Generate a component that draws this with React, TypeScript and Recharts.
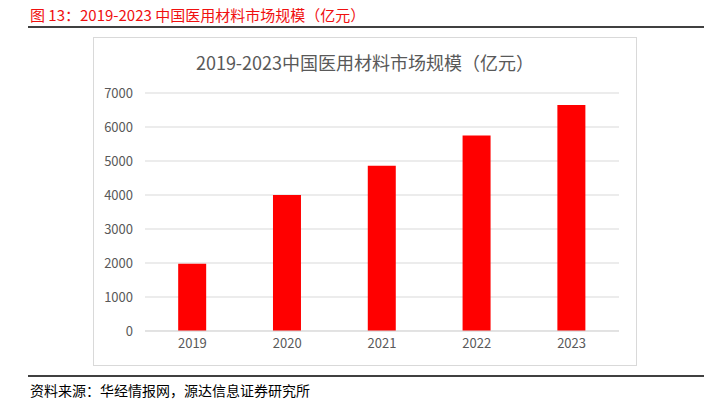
import { BarChart, Bar, XAxis, YAxis, CartesianGrid } from 'recharts';

const years = ['2019', '2020', '2021', '2022', '2023'];
const marketSize = [1980, 4000, 4860, 5750, 6650];
const yTicks = [0, 1000, 2000, 3000, 4000, 5000, 6000, 7000];

const data = years.map((year, i) => ({ year, value: marketSize[i] }));

const cjkFont = '"Noto Sans CJK SC", "Noto Sans", sans-serif';

export default function App() {
  return (
    <div
      style={{
        position: 'fixed',
        left: 0,
        top: 0,
        width: 704,
        height: 399,
        background: '#fff',
        overflow: 'hidden',
        fontFamily: cjkFont,
      }}
    >
      <div
        style={{
          position: 'absolute',
          left: 30,
          top: 4,
          fontSize: 15,
          lineHeight: '21px',
          color: '#f01010',
          whiteSpace: 'nowrap',
        }}
      >
        图 13：2019-2023 中国医用材料市场规模（亿元）
      </div>
      <div style={{ position: 'absolute', left: 28, right: 0, top: 26, height: 2, background: '#404040' }} />

      <div
        style={{
          position: 'absolute',
          left: 93,
          top: 37,
          width: 542,
          height: 327,
          border: '1px solid #d9d9d9',
        }}
      />
      <div
        style={{
          position: 'absolute',
          left: 93,
          top: 50,
          width: 544,
          textAlign: 'center',
          fontSize: 18,
          lineHeight: '24px',
          color: '#595959',
          whiteSpace: 'nowrap',
        }}
      >
        2019-2023中国医用材料市场规模（亿元）
      </div>
      <div style={{ position: 'absolute', left: 93, top: 37 }}>
        <BarChart
          width={544}
          height={329}
          data={data}
          margin={{ top: 56, right: 18, bottom: 0, left: 0 }}
          barCategoryGap="35%"
        >
          <CartesianGrid vertical={false} stroke="#d9d9d9" />
          <XAxis
            dataKey="year"
            height={35}
            axisLine={{ stroke: '#d9d9d9' }}
            tickLine={false}
            tick={{ fill: '#595959', fontSize: 13, fontFamily: cjkFont }}
          />
          <YAxis
            width={52}
            domain={[0, 7000]}
            ticks={yTicks}
            axisLine={false}
            tickLine={false}
            tickMargin={6}
            tick={{ fill: '#595959', fontSize: 13, fontFamily: cjkFont }}
          />
          <Bar dataKey="value" fill="#ff0000" isAnimationActive={false} />
        </BarChart>
      </div>

      <div style={{ position: 'absolute', left: 28, right: 0, top: 375, height: 2, background: '#404040' }} />
      <div
        style={{
          position: 'absolute',
          left: 30,
          top: 382,
          fontSize: 14,
          lineHeight: '17px',
          color: '#000',
          whiteSpace: 'nowrap',
        }}
      >
        资料来源：华经情报网，源达信息证券研究所
      </div>
    </div>
  );
}
